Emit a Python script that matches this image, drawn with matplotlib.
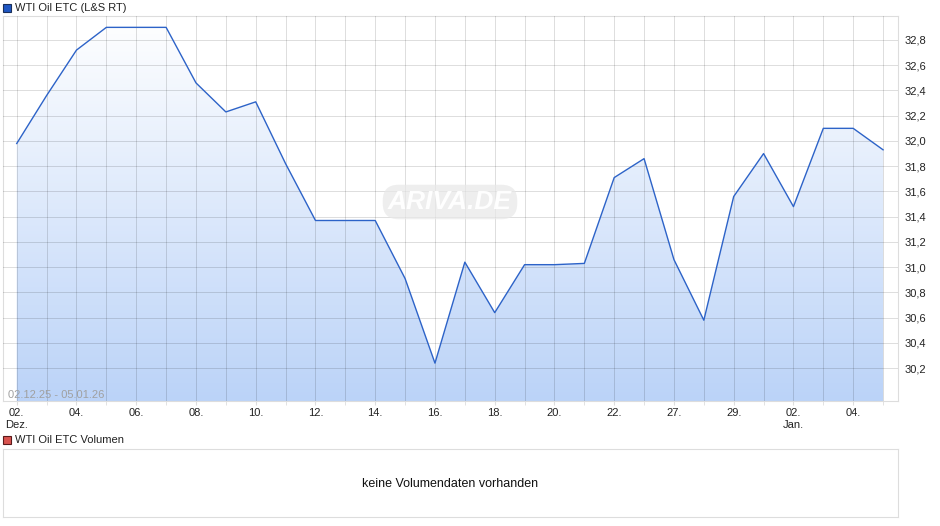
import numpy as np
import matplotlib
matplotlib.use("Agg")
import matplotlib.pyplot as plt
from matplotlib.patches import Rectangle, Polygon
from matplotlib.colors import LinearSegmentedColormap

plt.rcParams['font.family'] = ['Liberation Sans', 'DejaVu Sans']

# ---- data ----
dates = ["02.12.", "03.12.", "04.12.", "05.12.", "06.12.", "07.12.", "08.12.", "09.12.",
         "10.12.", "11.12.", "12.12.", "13.12.", "14.12.", "15.12.", "16.12.", "17.12.",
         "18.12.", "19.12.", "20.12.", "21.12.", "22.12.", "23.12.", "27.12.", "28.12.",
         "29.12.", "30.12.", "02.01.", "03.01.", "04.01.", "05.01."]
prices = [31.98, 32.36, 32.72, 32.90, 32.90, 32.90, 32.46, 32.23,
          32.31, 31.82, 31.37, 31.37, 31.37, 30.91, 30.24, 31.04,
          30.64, 31.02, 31.02, 31.03, 31.71, 31.86, 31.06, 30.58,
          31.56, 31.90, 31.48, 32.10, 32.10, 31.93]
xtick_idx = [0, 2, 4, 6, 8, 10, 12, 14, 16, 18, 20, 22, 24, 26, 28]
xtick_labels = ["02.\nDez.", "04.", "06.", "08.", "10.", "12.", "14.", "16.", "18.",
                "20.", "22.", "27.", "29.", "02.\nJan.", "04."]
yticks = [30.2, 30.4, 30.6, 30.8, 31.0, 31.2, 31.4, 31.6, 31.8, 32.0, 32.2, 32.4, 32.6, 32.8]
series_name = "WTI Oil ETC (L&S RT)"
volume_name = "WTI Oil ETC Volumen"
no_volume_text = "keine Volumendaten vorhanden"
range_text = "02.12.25 - 05.01.26"

W, H = 940, 526
fig = plt.figure(figsize=(W / 100, H / 100), dpi=100)

def fx(px):
    return px / W

def fy(py):
    return 1 - py / H

GRID = dict(color=(0.0, 0.0, 0.0), alpha=0.13, lw=0.72, snap=True)

# main axes: x 3..898, y 16..401
ax = fig.add_axes([fx(3), fy(401), fx(898 - 3), (401 - 16) / H])
x = np.arange(len(prices))
ymin, ymax = 29.94, 32.99
ax.set_xlim(-0.46, 29.5)
ax.set_ylim(ymin, ymax)

# gradient fill under the line
grad = LinearSegmentedColormap.from_list("g", ["#bbd3f8", "#ffffff"])
img = ax.imshow(np.linspace(0, 1, 256).reshape(-1, 1), aspect="auto", cmap=grad,
                extent=[-0.46, 29.5, ymin, ymax], origin="lower", zorder=1)
verts = [(x[0], ymin)] + list(zip(x, prices)) + [(x[-1], ymin)]
poly = Polygon(verts, closed=True, facecolor="none", edgecolor="none")
ax.add_patch(poly)
img.set_clip_path(poly)

ax.plot(x, prices, color="#2d63c8", lw=1.0, zorder=3)

# grid and ticks
ax.set_xticks(x, minor=True)
ax.set_xticks(xtick_idx)
ax.set_xticklabels(xtick_labels, fontsize=8, color="#222222", linespacing=1.25)
ax.set_yticks(yticks)
ax.set_yticklabels([f"{v:.1f}".replace(".", ",") for v in yticks], fontsize=8, color="#222222")
ax.yaxis.tick_right()
ax.tick_params(axis="y", length=0, pad=5)
ax.tick_params(axis="x", which="both", length=3, color="#dddddd", pad=2)
ax.set_axisbelow(False)
ax.grid(True, which="both", axis="x", zorder=2, **GRID)
ax.grid(True, which="major", axis="y", zorder=2, **GRID)
for s in ax.spines.values():
    s.set_color("#dddddd")
    s.set_linewidth(0.8)

# watermark
fig.text(fx(450), fy(202), "ARIVA.DE", ha="center", va="center", fontsize=19,
         style="italic", weight="bold", color="white", alpha=0.95,
         bbox=dict(boxstyle="round,pad=0.2,rounding_size=0.6", fc="#e8e8e8", ec="none", alpha=0.7),
         zorder=5)

# date range text
fig.text(fx(8), fy(395), range_text, ha="left", va="center", fontsize=8, color="#a0a0a0")

# top legend
fig.patches.append(Rectangle((fx(3), fy(12)), fx(8), 8 / H, transform=fig.transFigure,
                             facecolor="#1f57c3", edgecolor="#1a2f5a", lw=0.8))
fig.text(fx(15), fy(8), series_name, ha="left", va="center", fontsize=8, color="#222222")

# volume legend
fig.patches.append(Rectangle((fx(3), fy(444)), fx(8), 8 / H, transform=fig.transFigure,
                             facecolor="#d9534f", edgecolor="#5a1a1a", lw=0.8))
fig.text(fx(15), fy(440), volume_name, ha="left", va="center", fontsize=8, color="#222222")

# volume axes
axv = fig.add_axes([fx(3), fy(517), fx(898 - 3), (517 - 449) / H])
axv.set_xticks([])
axv.set_yticks([])
for s in axv.spines.values():
    s.set_color("#dddddd")
    s.set_linewidth(0.8)
axv.text(0.5, 0.48, no_volume_text, transform=axv.transAxes, ha="center", va="center",
         fontsize=9, color="#111111")

fig.savefig("out.png", dpi=100)
